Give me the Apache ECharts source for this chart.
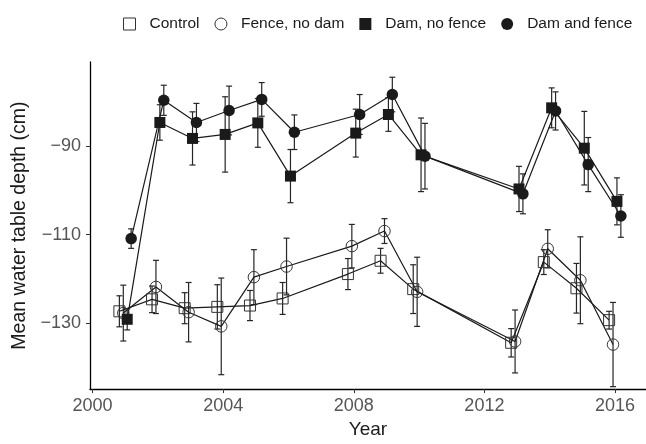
<!DOCTYPE html>
<html>
<head>
<meta charset="utf-8">
<script src="https://cdn.jsdelivr.net/npm/echarts@6/dist/echarts.min.js"></script>
<style>
  html, body { margin: 0; padding: 0; background: #fff; }
  #chart { width: 646px; height: 444px; }
</style>
</head>
<body>
<div id="chart"></div>
<script>
const years = [2001, 2002, 2003, 2004, 2005, 2006, 2008, 2009, 2010, 2013, 2014, 2015, 2016];
const groups = ["Control", "Fence, no dam", "Dam, no fence", "Dam and fence"];

const controlMean = [-127.3, -124.6, -126.6, -126.3, -126.0, -124.4, -118.9, -115.9, -122.3, -134.4, -116.2, -122.1, -129.3];
const controlSe = [3.5, 3.0, 3.5, 5.0, 3.4, 3.6, 3.5, 2.8, 5.5, 3.2, 2.8, 5.6, 2.0];
const fenceMean = [-127.7, -121.8, -127.5, -130.7, -119.6, -117.2, -112.6, -109.2, -122.9, -134.1, -113.2, -120.3, -134.8];
const fenceSe = [6.3, 6.0, 6.7, 10.9, 6.2, 6.4, 4.9, 2.8, 7.8, 7.1, 4.3, 9.8, 9.5];
const damMean = [-129.1, -84.7, -88.3, -87.4, -84.8, -96.8, -87.1, -82.9, -92.0, -99.7, -81.4, -90.5, -102.5];
const damSe = [2.4, 4.0, 6.0, 8.5, 5.5, 6.0, 5.4, 3.8, 8.3, 5.1, 4.5, 8.3, 5.3];
const damFenceMean = [-110.9, -79.7, -84.7, -82.0, -79.5, -86.9, -82.9, -78.4, -92.3, -100.8, -82.1, -94.2, -105.8];
const damFenceSe = [2.2, 3.4, 4.3, 5.5, 3.8, 3.9, 4.5, 3.9, 7.4, 4.5, 4.3, 6.1, 4.8];

const xTicks = [2000, 2004, 2008, 2012, 2016];
const yTicks = [-130, -110, -90];

// dodge so the four groups sit side by side around each year
const dodge = [-0.18, -0.06, 0.06, 0.18];
const means = [controlMean, fenceMean, damMean, damFenceMean];
const ses = [controlSe, fenceSe, damSe, damFenceSe];
const symbols = ["rect", "circle", "rect", "circle"];
const filled = [false, false, true, true];
const ink = "#1a1a1a";
const font = "Liberation Sans";

const myChart = echarts.init(document.getElementById("chart"));

function errorBarItem(params, api) {
  const x = api.value(0);
  const lo = api.coord([x, api.value(1)]);
  const hi = api.coord([x, api.value(2)]);
  const half = 3;
  const style = { stroke: "#262626", lineWidth: 1.2 };
  return {
    type: "group",
    children: [
      { type: "line", shape: { x1: hi[0], y1: hi[1], x2: lo[0], y2: lo[1] }, style: style },
      { type: "line", shape: { x1: hi[0] - half, y1: hi[1], x2: hi[0] + half, y2: hi[1] }, style: style },
      { type: "line", shape: { x1: lo[0] - half, y1: lo[1], x2: lo[0] + half, y2: lo[1] }, style: style }
    ]
  };
}

const series = [];
groups.forEach((name, g) => {
  series.push({
    name: name + " se",
    type: "custom",
    renderItem: errorBarItem,
    encode: { x: 0, y: [1, 2] },
    z: 1,
    data: years.map((yr, i) => [yr + dodge[g], means[g][i] - ses[g][i], means[g][i] + ses[g][i]])
  });
});
groups.forEach((name, g) => {
  series.push({
    name: name,
    type: "line",
    z: 3,
    symbol: symbols[g],
    symbolSize: symbols[g] === "rect" ? 11 : 11.5,
    lineStyle: { color: ink, width: 1.2 },
    itemStyle: filled[g]
      ? { color: ink, borderWidth: 0 }
      : { color: "rgba(255,255,255,0)", borderColor: "#333", borderWidth: 1 },
    emphasis: { disabled: true },
    data: years.map((yr, i) => [yr + dodge[g], means[g][i]])
  });
});

const squareIcon = "path://M0,0H10V10H0Z";

const option = {
  animation: false,
  textStyle: { fontFamily: font },
  legend: {
    left: 118,
    top: 11,
    itemWidth: 30,
    itemHeight: 12,
    itemGap: 15,
    symbolKeepAspect: true,
    selectedMode: false,
    textStyle: { fontSize: 15.5, color: ink, fontFamily: font },
    data: groups.map((name, g) => ({
      name: name,
      icon: symbols[g] === "rect" ? squareIcon : "circle",
      itemStyle: filled[g]
        ? { color: ink, borderWidth: 0 }
        : { color: "rgba(255,255,255,0)", borderColor: "#333", borderWidth: 1 }
    }))
  },
  grid: { left: 90, right: 0, top: 62, bottom: 47 },
  xAxis: {
    type: "value",
    min: 1999.92,
    max: 2016.95,
    name: "Year",
    nameLocation: "middle",
    nameGap: 27,
    nameTextStyle: { fontSize: 19, color: ink, fontFamily: font },
    axisLine: { onZero: false, lineStyle: { color: "#000", width: 1.3 } },
    axisTick: { customValues: xTicks, length: 4, lineStyle: { color: "#333" } },
    axisLabel: {
      customValues: xTicks,
      margin: 8,
      fontSize: 18,
      color: "#555",
      fontFamily: font,
      formatter: v => String(v)
    },
    splitLine: { show: false }
  },
  yAxis: {
    type: "value",
    min: -144.85,
    max: -71.06,
    name: "Mean water table depth (cm)",
    nameLocation: "middle",
    nameGap: 50,
    nameTextStyle: { fontSize: 19.5, color: ink, fontFamily: font },
    axisLine: { show: true, onZero: false, lineStyle: { color: "#000", width: 1.3 } },
    axisTick: { show: true, customValues: yTicks, length: 4, lineStyle: { color: "#333" } },
    axisLabel: {
      customValues: yTicks,
      margin: 9,
      fontSize: 18,
      color: "#555",
      fontFamily: font,
      formatter: v => String(v).replace("-", "\u2212")
    },
    splitLine: { show: false }
  },
  series: series
};

myChart.setOption(option);
</script>
</body>
</html>
